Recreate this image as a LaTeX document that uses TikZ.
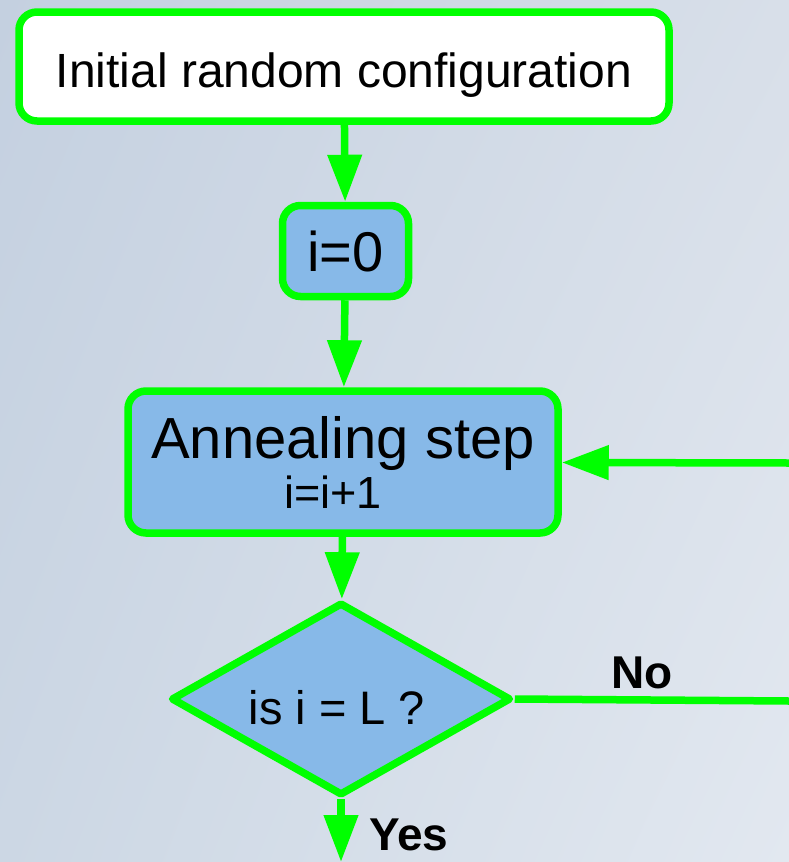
\documentclass[tikz,border=0pt]{standalone}
\usepackage{fontspec}
\setmainfont{Liberation Sans}
\usetikzlibrary{arrows.meta,shapes.geometric,shadings}
\definecolor{edgegreen}{RGB}{0,255,0}
\definecolor{boxblue}{RGB}{135,185,232}
\definecolor{bgul}{RGB}{196,208,224}
\definecolor{bgur}{RGB}{216,223,233}
\definecolor{bgll}{RGB}{204,215,228}
\definecolor{bglr}{RGB}{226,232,240}
\begin{document}
\begin{tikzpicture}[x=1pt,y=-1pt,
  box/.style={draw=edgegreen, line width=7.5pt, rounded corners=18pt, inner sep=0pt},
  flow/.style={draw=edgegreen, line width=7.5pt, -{Triangle[length=47pt,width=33pt]}},
  plainedge/.style={draw=edgegreen, line width=7.5pt},
  edgelabel/.style={font=\fontsize{46}{46}\selectfont\bfseries, inner sep=0pt, anchor=base west}]
\useasboundingbox (0,0) rectangle (789,862);
% soft blue-grey backdrop
\shade[upper left=bgul, upper right=bgur, lower left=bgll, lower right=bglr] (0,0) rectangle (789,862);
\clip (0,0) rectangle (789,862);

% nodes
\node[box, fill=white, minimum width=650pt, minimum height=109pt,
      font=\fontsize{48}{48}\selectfont, text height=41pt, text depth=0pt]
  (init) at (344,66.5) {Initial random configuration};
\node[box, fill=boxblue, minimum width=126pt, minimum height=91pt,
      font=\fontsize{56}{56}\selectfont, text height=40pt, text depth=0pt]
  (izero) at (345.5,251) {i=0};
\node[box, fill=boxblue, minimum width=430pt, minimum height=142pt, align=center,
      font=\fontsize{58}{50}\selectfont]
  (anneal) at (343,462) {Annealing step\\{\fontsize{45}{45}\selectfont i=i+1\hspace*{20pt}}};
\node[diamond, draw=edgegreen, line width=7.5pt, line join=round, fill=boxblue,
      inner sep=0pt, aspect=1.76, minimum width=340pt, minimum height=193pt,
      font=\fontsize{47}{47}\selectfont, text height=51pt, text depth=0pt]
  (check) at (341,699) {is i = L ?\hspace*{8pt}};

% free ends of the edges leaving the frame
\coordinate (yesEnd) at (341,862);
\coordinate (noEnd) at (789,701);
\coordinate (loopIn) at (789,463);

% connectors
\draw[flow] (init) -- (izero);
\draw[flow] (izero) -- (anneal);
\draw[flow] (anneal) -- (check);
\draw[flow] (check.south) -- (yesEnd);
\draw[plainedge] (check.east) -- (noEnd);
\draw[flow] (loopIn) -- (anneal);

% edge labels
\node[edgelabel] (nolabel) at (611,688) {No};
\node[edgelabel] (yeslabel) at (369,850) {Yes};
\end{tikzpicture}
\end{document}
